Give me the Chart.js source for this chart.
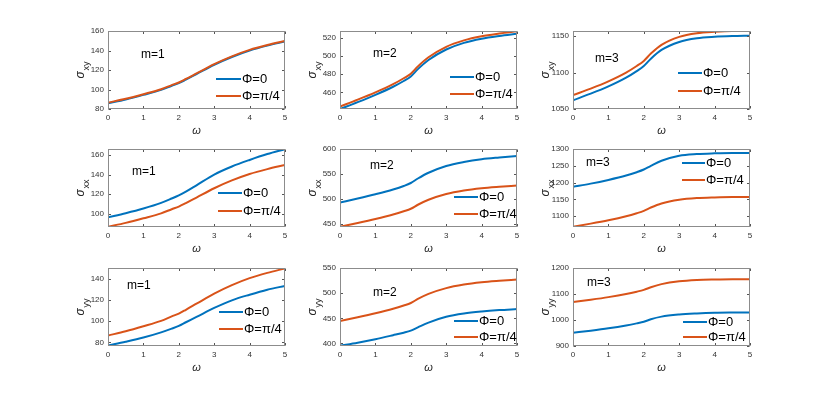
<!DOCTYPE html>
<html><head><meta charset="utf-8">
<script src="https://cdn.jsdelivr.net/npm/chart.js@4/dist/chart.umd.min.js"></script>
<style>
html,body{margin:0;padding:0;background:#fff;}
#wrap{position:relative;width:830px;height:396px;overflow:hidden;background:#fff;}
canvas{position:absolute;}
</style></head><body><div id="wrap"></div>
<script>
// ---- data ----
const omega = [0, 0.5, 1, 1.5, 1.8, 2, 2.2, 2.5, 3, 3.5, 4, 4.5, 5];
const xTicks = [0, 1, 2, 3, 4, 5];
const seriesNames = ['Φ=0', 'Φ=π/4'];

// sigma_xy
const sxy_m1_phi0  = [85.8, 89.8, 94.5, 99.6, 103.8, 106.5, 110.1, 115.8, 125.3, 133.3, 139.9, 145.0, 149.2];
const sxy_m1_phi45 = [86.5, 90.5, 95.2, 100.3, 104.5, 107.2, 110.8, 116.5, 126.0, 134.0, 140.6, 145.6, 149.8];
const sxy_m2_phi0  = [441.8, 449.3, 457.3, 466.2, 472.5, 477.5, 485.5, 495.5, 507.0, 514.3, 518.8, 521.8, 524.2];
const sxy_m2_phi45 = [444.5, 452.0, 460.0, 469.0, 475.5, 480.5, 488.5, 498.5, 510.0, 517.0, 521.5, 524.5, 527.0];
const sxy_m3_phi0  = [1062, 1071, 1081, 1093, 1102, 1109, 1119, 1131, 1142, 1147, 1149, 1150, 1150.5];
const sxy_m3_phi45 = [1069, 1078, 1088, 1100, 1109, 1116, 1126, 1138, 1149, 1154, 1156, 1157, 1157];
// sigma_xx
const sxx_m1_phi0  = [96.2, 100.4, 105.2, 111.0, 115.5, 118.7, 122.5, 129.0, 140.0, 148.3, 155.0, 161.0, 166.0];
const sxx_m1_phi45 = [86.5, 90.5, 95.2, 100.3, 104.5, 107.2, 110.8, 116.5, 126.0, 134.0, 140.6, 145.6, 149.8];
const sxx_m2_phi0  = [493, 501, 509.5, 519, 526, 532, 541, 552.5, 566, 574, 579.5, 583, 586];
const sxx_m2_phi45 = [444.5, 452.0, 460.0, 469.0, 475.5, 480.5, 488.5, 498.5, 510.0, 517.0, 521.5, 524.5, 527.0];
const sxx_m3_phi0  = [1188, 1197, 1208, 1221, 1231, 1239, 1250, 1265, 1280, 1285, 1287, 1288, 1288];
const sxx_m3_phi45 = [1069, 1078, 1088, 1100, 1109, 1116, 1126, 1138, 1149, 1154, 1156, 1157, 1157];
// sigma_yy
const syy_m1_phi0  = [77.0, 80.6, 84.6, 89.5, 93.0, 95.6, 99.0, 104.0, 112.5, 119.7, 125.0, 129.7, 133.3];
const syy_m1_phi45 = [86.5, 90.5, 95.2, 100.3, 104.5, 107.2, 110.8, 116.5, 126.0, 134.0, 140.6, 145.6, 149.8];
const syy_m2_phi0  = [395.5, 401.5, 408.5, 416.5, 421.5, 425.5, 432.0, 441.5, 453.0, 459.5, 463.5, 466.3, 468.3];
const syy_m2_phi45 = [444.5, 452.0, 460.0, 469.0, 475.5, 480.5, 488.5, 498.5, 510.0, 517.0, 521.5, 524.5, 527.0];
const syy_m3_phi0  = [951, 959, 968, 979, 987, 993, 1003, 1013, 1021, 1025, 1027.5, 1028.5, 1029];
const syy_m3_phi45 = [1069, 1078, 1088, 1100, 1109, 1116, 1126, 1138, 1149, 1154, 1156, 1157, 1157];

// y tick labels
const yt_xy_m1 = [80, 100, 120, 140, 160];
const yt_xy_m2 = [460, 480, 500, 520];
const yt_xy_m3 = [1050, 1100, 1150];
const yt_xx_m1 = [100, 120, 140, 160];
const yt_xx_m2 = [450, 500, 550, 600];
const yt_xx_m3 = [1100, 1150, 1200, 1250, 1300];
const yt_yy_m1 = [80, 100, 120, 140];
const yt_yy_m2 = [400, 450, 500, 550];
const yt_yy_m3 = [900, 1000, 1100, 1200];

// y axis limits
const ylim_xy = [[80, 160], [441.8, 527.3], [1050, 1157]];
const ylim_xx = [[86.3, 166.2], [444, 600], [1068, 1300]];
const ylim_yy = [[76.6, 150.2], [395, 550], [900, 1200]];

// ---- layout ----
const BOX_LEFT = [108, 340, 573];
const BOX_TOP = [31, 149, 268];
const BOX_W = 177, BOX_H = 78;
const PAD_L = 50, PAD_T = 10, PAD_R = 12, PAD_B = 30;
const BLUE = '#0072BD', ORANGE = '#D95319';
const FONT = "'Liberation Sans', Arial, Helvetica, sans-serif";

const panels = [
  {r:0,c:0,sub:'xy',m:1,b:sxy_m1_phi0,o:sxy_m1_phi45,yt:yt_xy_m1,yl:ylim_xy[0],leg:[108,133,48,65],mp:[33,24]},
  {r:0,c:1,sub:'xy',m:2,b:sxy_m2_phi0,o:sxy_m2_phi45,yt:yt_xy_m2,yl:ylim_xy[1],leg:[110,134,46,63],mp:[33,23]},
  {r:0,c:2,sub:'xy',m:3,b:sxy_m3_phi0,o:sxy_m3_phi45,yt:yt_xy_m3,yl:ylim_xy[2],leg:[105,129,42,60],mp:[22,28]},
  {r:1,c:0,sub:'xx',m:1,b:sxx_m1_phi0,o:sxx_m1_phi45,yt:yt_xx_m1,yl:ylim_xx[0],leg:[110,134,44,62],mp:[24,23]},
  {r:1,c:1,sub:'xx',m:2,b:sxx_m2_phi0,o:sxx_m2_phi45,yt:yt_xx_m2,yl:ylim_xx[1],leg:[114,138,48,65],mp:[30,17]},
  {r:1,c:2,sub:'xx',m:3,b:sxx_m3_phi0,o:sxx_m3_phi45,yt:yt_xx_m3,yl:ylim_xx[2],leg:[109,132,14,31],mp:[13,14]},
  {r:2,c:0,sub:'yy',m:1,b:syy_m1_phi0,o:syy_m1_phi45,yt:yt_yy_m1,yl:ylim_yy[0],leg:[111,135,44,61],mp:[19,18]},
  {r:2,c:1,sub:'yy',m:2,b:syy_m2_phi0,o:syy_m2_phi45,yt:yt_yy_m2,yl:ylim_yy[1],leg:[114,138,53,69],mp:[33,25]},
  {r:2,c:2,sub:'yy',m:3,b:syy_m3_phi0,o:syy_m3_phi45,yt:yt_yy_m3,yl:ylim_yy[2],leg:[110,134,54,69],mp:[14,15]}
];

const matlabPlugin = {
  id: 'matlab',
  afterDraw(chart, args, opts) {
    const {ctx, chartArea: a, scales: {x, y}} = chart;
    const p = opts.panel;
    ctx.save();
    // ticks (inward, all four sides)
    ctx.strokeStyle = '#555'; ctx.lineWidth = 1;
    const L = Math.round(a.left) + 0.5, R = Math.round(a.right) - 0.5;
    const T = Math.round(a.top) + 0.5, B = Math.round(a.bottom) - 0.5;
    const tk = 2.5;
    ctx.beginPath();
    xTicks.forEach(v => {
      const px = Math.round(x.getPixelForValue(v)) + 0.5;
      ctx.moveTo(px, B); ctx.lineTo(px, B - tk);
      ctx.moveTo(px, T); ctx.lineTo(px, T + tk);
    });
    p.yt.forEach(v => {
      const py = Math.round(y.getPixelForValue(v)) + 0.5;
      ctx.moveTo(L, py); ctx.lineTo(L + tk, py);
      ctx.moveTo(R, py); ctx.lineTo(R - tk, py);
    });
    ctx.stroke();
    // box
    ctx.strokeStyle = '#8c8c8c';
    ctx.strokeRect(L, T, R - L, B - T);
    // y-axis title: sigma with subscript
    ctx.save();
    ctx.translate(a.left - 27, (a.top + a.bottom) / 2);
    ctx.rotate(-Math.PI / 2);
    ctx.fillStyle = '#262626';
    ctx.textBaseline = 'middle';
    ctx.font = 'italic 12px ' + FONT;
    const ws = ctx.measureText('σ').width;
    ctx.font = '9px ' + FONT;
    const wsub = ctx.measureText(p.sub).width;
    const start = -(ws + 1 + wsub) / 2;
    ctx.textAlign = 'left';
    ctx.font = 'italic 12px ' + FONT;
    ctx.fillText('σ', start, 0);
    ctx.font = '9px ' + FONT;
    ctx.fillText(p.sub, start + ws + 1, 6);
    ctx.restore();
    // m label
    ctx.fillStyle = '#000';
    ctx.textAlign = 'left'; ctx.textBaseline = 'middle';
    ctx.font = '12px ' + FONT;
    ctx.fillText('m=' + p.m, a.left + p.mp[0], a.top + p.mp[1]);
    // legend
    const [x0, x1, y0, y1] = p.leg;
    ctx.font = '13px ' + FONT;
    [[BLUE, y0, seriesNames[0]], [ORANGE, y1, seriesNames[1]]].forEach(([col, yy, txt]) => {
      ctx.strokeStyle = col; ctx.lineWidth = 2;
      ctx.beginPath();
      ctx.moveTo(a.left + x0, a.top + yy); ctx.lineTo(a.left + x1, a.top + yy);
      ctx.stroke();
      ctx.fillStyle = '#000';
      ctx.fillText(txt, a.left + x1 + 1, a.top + yy);
    });
    ctx.restore();
  }
};

Chart.defaults.font.family = FONT;
const wrap = document.getElementById('wrap');

panels.forEach(p => {
  const cv = document.createElement('canvas');
  const w = PAD_L + BOX_W + PAD_R, h = PAD_T + BOX_H + PAD_B;
  cv.width = w; cv.height = h;
  cv.style.width = w + 'px'; cv.style.height = h + 'px';
  cv.style.left = (BOX_LEFT[p.c] - PAD_L) + 'px';
  cv.style.top = (BOX_TOP[p.r] - PAD_T) + 'px';
  wrap.appendChild(cv);
  const mk = arr => omega.map((o, i) => ({x: o, y: arr[i]}));
  new Chart(cv, {
    type: 'line',
    data: {
      datasets: [
        {label: seriesNames[0], data: mk(p.b), borderColor: BLUE, borderWidth: 2, pointRadius: 0, cubicInterpolationMode: 'monotone', order: 1},
        {label: seriesNames[1], data: mk(p.o), borderColor: ORANGE, borderWidth: 2, pointRadius: 0, cubicInterpolationMode: 'monotone', order: 0}
      ]
    },
    options: {
      responsive: false, animation: false, devicePixelRatio: 1,
      layout: {padding: {left: 0, top: PAD_T, right: PAD_R, bottom: 0}},
      plugins: {legend: {display: false}, tooltip: {enabled: false}, matlab: {panel: p}},
      scales: {
        x: {
          type: 'linear', min: 0, max: 5,
          afterBuildTicks: s => { s.ticks = xTicks.map(v => ({value: v})); },
          afterFit: s => { s.height = PAD_B; },
          grid: {display: false, drawTicks: false}, border: {display: false},
          ticks: {font: {size: 8}, color: '#333', padding: 4, maxRotation: 0, autoSkip: false, callback: v => String(v)},
          title: {display: true, text: 'ω', font: {size: 11, style: 'italic'}, color: '#262626', padding: {top: 0, bottom: 1}}
        },
        y: {
          type: 'linear', min: p.yl[0], max: p.yl[1],
          afterBuildTicks: s => { s.ticks = p.yt.map(v => ({value: v})); },
          afterFit: s => { s.width = PAD_L; },
          grid: {display: false, drawTicks: false}, border: {display: false},
          ticks: {font: {size: 8}, color: '#333', padding: 4, autoSkip: false, callback: v => String(v)}
        }
      }
    },
    plugins: [matlabPlugin]
  });
});
</script>
</body></html>
